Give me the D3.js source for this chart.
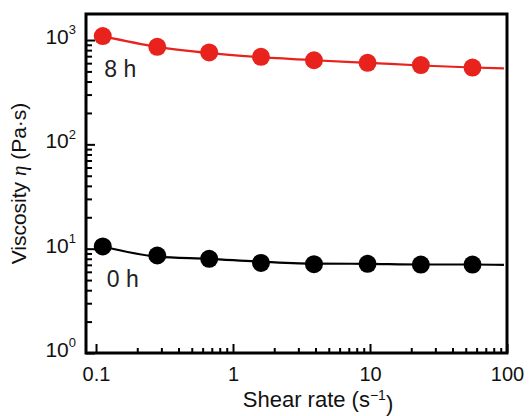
<!DOCTYPE html>
<html>
<head>
<meta charset="utf-8">
<script src="https://cdn.jsdelivr.net/npm/d3@7"></script>
<style>
  html, body { margin: 0; padding: 0; background: #fff; }
  svg { display: block; font-family: "Liberation Sans", Arial, sans-serif; }
</style>
</head>
<body>
<svg id="chart" width="531" height="416"></svg>
<script>
// ---- data ----
const shearRate = [0.112, 0.28, 0.67, 1.6, 3.9, 9.6, 23.5, 56];
const visc8h = [1090, 860, 760, 690, 640, 605, 575, 545];
const visc0h = [10.5, 8.6, 8.0, 7.3, 7.1, 7.15, 7.05, 7.05];
const fitX = [0.112, 0.28, 0.67, 1.6, 3.9, 9.6, 23.5, 56, 95];
const fit8h = [1090, 860, 750, 685, 640, 605, 570, 545, 535];
const fit0h = [10.5, 8.4, 8.0, 7.5, 7.2, 7.15, 7.05, 7.05, 7.0];
const xMajor = [0.1, 1, 10, 100];
const xMajorLabels = ["0.1", "1", "10", "100"];
const yMajor = [1, 10, 100, 1000];
const yExponents = ["0", "1", "2", "3"];
const seriesLabels = ["8 h", "0 h"];

const W = 531, H = 416;
const m = { left: 86, right: 24, top: 14, bottom: 63 };
const svg = d3.select("#chart");

const x = d3.scaleLog().domain([0.0845, 100]).range([m.left, W - m.right]);
const y = d3.scaleLog().domain([1, 1776]).range([H - m.bottom, m.top]);

const xMinor = [];
[0.1, 1, 10].forEach(d => { for (let k = 2; k <= 9; k++) xMinor.push(d * k); });
const yMinor = [];
[1, 10, 100].forEach(d => { for (let k = 2; k <= 9; k++) yMinor.push(d * k); });

// minor ticks
svg.append("g").attr("transform", `translate(0,${H - m.bottom})`)
  .call(d3.axisBottom(x).tickValues(xMinor).tickSize(-5).tickFormat(""))
  .call(g => g.select(".domain").remove())
  .call(g => g.selectAll("line").attr("stroke", "#000").attr("stroke-width", 2));
svg.append("g").attr("transform", `translate(${m.left},0)`)
  .call(d3.axisLeft(y).tickValues(yMinor).tickSize(-6).tickFormat(""))
  .call(g => g.select(".domain").remove())
  .call(g => g.selectAll("line").attr("stroke", "#000").attr("stroke-width", 2));

// major x ticks
const gx = svg.append("g").attr("transform", `translate(0,${H - m.bottom})`)
  .call(d3.axisBottom(x).tickValues(xMajor).tickSize(-9).tickPadding(14)
    .tickFormat((d, i) => xMajorLabels[i]));
gx.select(".domain").remove();
gx.selectAll("line").attr("stroke", "#000").attr("stroke-width", 2);
gx.selectAll("text").attr("font-size", 20).attr("fill", "#111")
  .attr("font-family", "'Liberation Sans', Arial, sans-serif");

// major y ticks
const gy = svg.append("g").attr("transform", `translate(${m.left},0)`)
  .call(d3.axisLeft(y).tickValues(yMajor).tickSize(-9).tickFormat(""));
gy.select(".domain").remove();
gy.selectAll("line").attr("stroke", "#000").attr("stroke-width", 2);
gy.selectAll(".tick").append("text")
  .attr("x", -10).attr("dy", "0.36em")
  .attr("text-anchor", "end").attr("fill", "#111")
  .attr("font-family", "'Liberation Sans', Arial, sans-serif")
  .each(function(d, i) {
    const t = d3.select(this);
    t.append("tspan").attr("font-size", 21).text("10");
    t.append("tspan").attr("font-size", 13).attr("dy", "-0.75em").text(yExponents[i]);
  });

// frame
svg.append("rect")
  .attr("x", m.left).attr("y", m.top)
  .attr("width", W - m.left - m.right).attr("height", H - m.top - m.bottom)
  .attr("fill", "none").attr("stroke", "#000").attr("stroke-width", 3);

// fit lines
const line = d3.line().x(d => x(d[0])).y(d => y(d[1])).curve(d3.curveMonotoneX);
svg.append("path").datum(fitX.map((d, i) => [d, fit8h[i]]))
  .attr("d", line).attr("fill", "none").attr("stroke", "#e8221c").attr("stroke-width", 2.2);
svg.append("path").datum(fitX.map((d, i) => [d, fit0h[i]]))
  .attr("d", line).attr("fill", "none").attr("stroke", "#000").attr("stroke-width", 2.2);

// points
svg.append("g").selectAll("circle").data(shearRate.map((d, i) => [d, visc8h[i]]))
  .join("circle").attr("cx", d => x(d[0])).attr("cy", d => y(d[1])).attr("r", 9)
  .attr("fill", "#e8221c");
svg.append("g").selectAll("circle").data(shearRate.map((d, i) => [d, visc0h[i]]))
  .join("circle").attr("cx", d => x(d[0])).attr("cy", d => y(d[1])).attr("r", 9)
  .attr("fill", "#000");

// series labels
svg.append("text").attr("x", x(0.115)).attr("y", y(visc8h[0]) + 41)
  .attr("font-size", 23).attr("fill", "#222").text(seriesLabels[0]);
svg.append("text").attr("x", x(0.12)).attr("y", y(visc0h[0]) + 41)
  .attr("font-size", 23).attr("fill", "#222").text(seriesLabels[1]);

// axis titles
svg.append("text").attr("x", 318).attr("y", 407).attr("text-anchor", "middle")
  .attr("font-size", 22).attr("fill", "#111")
  .call(t => {
    t.append("tspan").text("Shear rate (s");
    t.append("tspan").attr("font-size", 14).attr("dy", "-0.5em").text("\u22121");
    t.append("tspan").attr("dy", "0.5em").text(")");
  });
svg.append("text").attr("transform", `translate(26,${(m.top + H - m.bottom) / 2}) rotate(-90)`)
  .attr("text-anchor", "middle").attr("font-size", 21).attr("fill", "#111")
  .call(t => {
    t.append("tspan").text("Viscosity ");
    t.append("tspan").attr("font-style", "italic").attr("font-family", "'Liberation Serif', serif").text("\u03b7");
    t.append("tspan").text(" (Pa\u00b7s)");
  });
</script>
</body>
</html>
